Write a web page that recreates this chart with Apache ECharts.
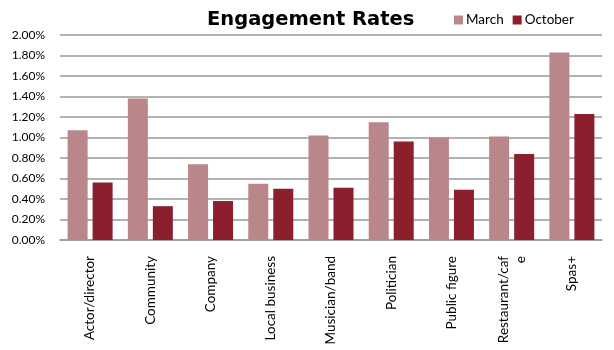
<!DOCTYPE html>
<html>
<head>
<meta charset="utf-8">
<script src="https://cdn.jsdelivr.net/npm/echarts@6/dist/echarts.min.js"></script>
<style>html,body{margin:0;padding:0;background:#fff}#c{width:614px;height:350px}</style>
</head>
<body>
<div id="c"></div>
<script>
var categories = ['Actor/director', 'Community', 'Company', 'Local business', 'Musician/band', 'Politician', 'Public figure', 'Restaurant/caf\ne', 'Spas+'];
var march = [1.07, 1.38, 0.74, 0.55, 1.02, 1.15, 1.00, 1.01, 1.83];
var october = [0.56, 0.33, 0.38, 0.50, 0.51, 0.96, 0.49, 0.84, 1.23];
var seriesNames = ['March', 'October'];

var chart = echarts.init(document.getElementById('c'), null, {renderer: 'canvas'});
chart.setOption({
  animation: false,
  title: {
    text: 'Engagement Rates',
    left: 202, top: 5,
    textStyle: {fontFamily: 'DejaVu Sans', fontWeight: 'bold', fontSize: 19.5, color: '#000'}
  },
  legend: {
    data: seriesNames,
    left: 449, top: 8,
    icon: 'rect', itemWidth: 9, itemHeight: 9, itemGap: 9,
    textStyle: {fontFamily: 'Lato', fontSize: 13.5, color: '#000', padding: [0, 0, 0, -2]}
  },
  grid: {left: 60, right: 12, top: 35, bottom: 110, containLabel: false},
  xAxis: {
    type: 'category',
    data: categories,
    axisTick: {show: false},
    axisLine: {lineStyle: {color: '#999', width: 1.5}},
    axisLabel: {interval: 0, rotate: 90, margin: 16, fontFamily: 'Lato', fontSize: 13.5, color: '#000', lineHeight: 17}
  },
  yAxis: {
    type: 'value', min: 0, max: 2, interval: 0.2,
    axisLine: {show: false}, axisTick: {show: false},
    splitLine: {lineStyle: {color: '#999', width: 1.5}},
    axisLabel: {margin: 15, fontFamily: 'Lato', fontSize: 12, color: '#000',
      formatter: function (v) { return v.toFixed(2) + '%'; }}
  },
  series: [
    {name: seriesNames[0], type: 'bar', data: march, barWidth: 20, barGap: '25%', itemStyle: {color: '#b9868a'}},
    {name: seriesNames[1], type: 'bar', data: october, barWidth: 20, itemStyle: {color: '#8b1f2e'}}
  ]
});
</script>
</body>
</html>
